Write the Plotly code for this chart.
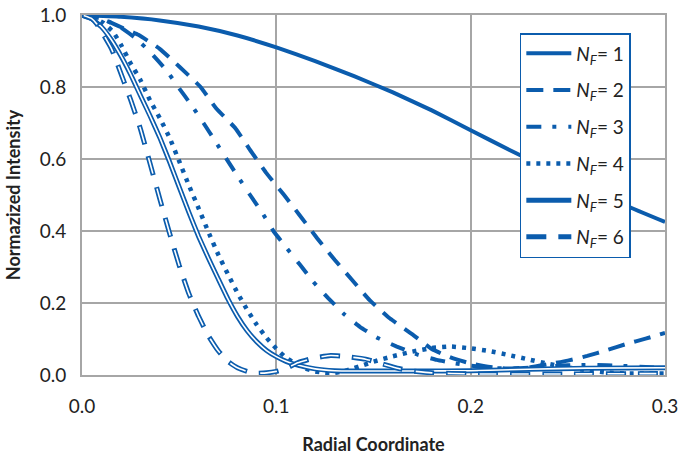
import plotly.graph_objects as go

# ---- data ----
x1 = [0, 0.02, 0.04, 0.06, 0.08, 0.1, 0.12, 0.14, 0.16, 0.18, 0.2, 0.22, 0.24, 0.26, 0.28, 0.3]
y1 = [1.0, 0.995, 0.985, 0.968, 0.943, 0.91, 0.872, 0.83, 0.785, 0.735, 0.68, 0.625, 0.572, 0.52, 0.47, 0.425]

x2 = [0, 0.01, 0.018, 0.029, 0.04, 0.05, 0.061, 0.069, 0.079, 0.0865, 0.095, 0.104, 0.112, 0.121,
      0.13, 0.139, 0.148, 0.1585, 0.1705, 0.18, 0.19, 0.2, 0.21, 0.22, 0.23, 0.24, 0.25, 0.26,
      0.27, 0.28, 0.29, 0.3]
y2 = [1.0, 0.99, 0.971, 0.945, 0.906, 0.857, 0.8, 0.741, 0.685, 0.625, 0.56, 0.5, 0.444, 0.38,
      0.32, 0.264, 0.208, 0.157, 0.111, 0.072, 0.048, 0.032, 0.022, 0.018, 0.021, 0.03, 0.04,
      0.053, 0.069, 0.086, 0.101, 0.117]

x3 = [0, 0.01, 0.02, 0.028, 0.035, 0.0435, 0.0495, 0.0564, 0.0625, 0.0685, 0.0745, 0.0805, 0.0865,
      0.0929, 0.0985, 0.1054, 0.1122, 0.119, 0.1268, 0.1345, 0.143, 0.1525, 0.162, 0.173, 0.1825,
      0.19, 0.2, 0.21, 0.22, 0.23, 0.24, 0.25, 0.26, 0.27, 0.28, 0.29, 0.3]
y3 = [1.0, 0.99, 0.965, 0.934, 0.897, 0.846, 0.8, 0.749, 0.7, 0.65, 0.599, 0.549, 0.5, 0.449, 0.4,
      0.352, 0.306, 0.259, 0.213, 0.171, 0.134, 0.102, 0.079, 0.056, 0.042, 0.034, 0.026, 0.02,
      0.018, 0.02, 0.024, 0.027, 0.028, 0.027, 0.025, 0.022, 0.02]

x4 = [0, 0.005, 0.011, 0.016, 0.02, 0.025, 0.03, 0.035, 0.04, 0.045, 0.05, 0.055, 0.06, 0.065,
      0.07, 0.075, 0.08, 0.085, 0.09, 0.095, 0.1, 0.105, 0.11, 0.115, 0.12, 0.125, 0.13, 0.135,
      0.14, 0.145, 0.15, 0.16, 0.17, 0.18, 0.19, 0.2, 0.21, 0.22, 0.23, 0.24, 0.25, 0.26, 0.27,
      0.28, 0.29, 0.3]
y4 = [1.0, 0.995, 0.978, 0.953, 0.918, 0.866, 0.82, 0.763, 0.714, 0.66, 0.594, 0.527, 0.463, 0.398,
      0.336, 0.281, 0.228, 0.181, 0.139, 0.103, 0.073, 0.048, 0.031, 0.018, 0.01, 0.006, 0.006,
      0.011, 0.019, 0.028, 0.037, 0.052, 0.065, 0.075, 0.079, 0.074, 0.066, 0.055, 0.043, 0.031,
      0.021, 0.013, 0.007, 0.004, 0.004, 0.004]

x5 = [0, 0.005, 0.01, 0.015, 0.02, 0.025, 0.03, 0.035, 0.04, 0.045, 0.05, 0.055, 0.06,
      0.065, 0.07, 0.075, 0.08, 0.085, 0.09, 0.095, 0.1, 0.105, 0.11, 0.12, 0.13, 0.14, 0.15,
      0.17, 0.2, 0.23, 0.26, 0.3]
y5 = [1.0, 0.99, 0.967, 0.932, 0.887, 0.835, 0.777, 0.72, 0.66, 0.593, 0.522, 0.452, 0.385,
      0.325, 0.268, 0.212, 0.163, 0.123, 0.092, 0.068, 0.051, 0.038, 0.029, 0.017, 0.012, 0.011,
      0.011, 0.011, 0.012, 0.016, 0.019, 0.02]

x6 = [0, 0.005, 0.0075, 0.01, 0.0152, 0.02, 0.025, 0.03, 0.035, 0.04, 0.045, 0.05,
      0.055, 0.06, 0.065, 0.07, 0.075, 0.08, 0.085, 0.09, 0.095, 0.1, 0.105, 0.111, 0.12, 0.128,
      0.135, 0.146, 0.155, 0.163, 0.17, 0.18, 0.2, 0.25, 0.3]
y6 = [1.0, 0.99, 0.976, 0.955, 0.906, 0.838, 0.765, 0.685, 0.588, 0.49, 0.395, 0.305,
      0.226, 0.163, 0.109, 0.068, 0.038, 0.02, 0.01, 0.005, 0.006, 0.01, 0.018, 0.034, 0.048,
      0.054, 0.052, 0.044, 0.03, 0.018, 0.011, 0.006, 0.003, 0.003, 0.004]

names = ["<i>N<sub>F</sub></i>= 1", "<i>N<sub>F</sub></i>= 2", "<i>N<sub>F</sub></i>= 3",
         "<i>N<sub>F</sub></i>= 4", "<i>N<sub>F</sub></i>= 5", "<i>N<sub>F</sub></i>= 6"]
x_ticks = [0.0, 0.1, 0.2, 0.3]
x_ticklabels = ["0.0", "0.1", "0.2", "0.3"]
y_ticks = [0.0, 0.2, 0.4, 0.6, 0.8, 1.0]
y_ticklabels = ["0.0", "0.2", "0.4", "0.6", "0.8", "1.0"]

BLUE = "#0b5cad"
FONT = "Lato"

fig = go.Figure()

def add(x, y, name, width, dash, grp):
    fig.add_trace(go.Scatter(x=x, y=y, mode="lines", name=name, legendgroup=grp,
                             line=dict(color=BLUE, width=width, dash=dash, shape="spline",
                                       smoothing=0.4)))

add(x1, y1, names[0], 4, "solid", "g1")
add(x2, y2, names[1], 4, "17px,10px", "g2")
add(x3, y3, names[2], 4, "15px,11px,4px,12px", "g3")
add(x4, y4, names[3], 4.5, "4px,6px", "g4")
add(x5, y5, names[4], 5, "solid", "g5")
fig.add_trace(go.Scatter(x=x5, y=y5, mode="lines", legendgroup="g5", showlegend=False,
                         hoverinfo="skip",
                         line=dict(color="white", width=1.6, shape="spline", smoothing=0.4)))
add(x6, y6, names[5], 5, "20px,12px", "g6")
fig.add_trace(go.Scatter(x=x6, y=y6, mode="lines", legendgroup="g6", showlegend=False,
                         hoverinfo="skip",
                         line=dict(color="white", width=1.6, dash="0px,1.5px,17px,13.5px",
                                   shape="spline", smoothing=0.4)))

GRID = "#a6a6a6"
fig.update_layout(
    width=680, height=455,
    margin=dict(l=82, r=15, t=15, b=80),
    paper_bgcolor="white", plot_bgcolor="white",
    font=dict(family=FONT, size=19, color="#222222"),
    showlegend=True,
    legend=dict(x=0.751, y=0.95, xanchor="left", yanchor="top",
                bordercolor=BLUE, borderwidth=1.5, bgcolor="white",
                font=dict(family=FONT, size=19, color="#222222"),
                itemwidth=45, tracegroupgap=9, traceorder="grouped"),
    xaxis=dict(range=[0, 0.3], tickvals=x_ticks, ticktext=x_ticklabels,
               showgrid=True, gridcolor=GRID, gridwidth=1.5, automargin=False,
               showline=True, linecolor=GRID, linewidth=2, mirror=True,
               zeroline=False, ticks="", ticklabelstandoff=13, ticklabeloverflow="allow",
               title=dict(text="<b>Radial Coordinate</b>", font=dict(size=18, family=FONT),
                          standoff=24)),
    yaxis=dict(range=[0, 1.0], tickvals=y_ticks, ticktext=y_ticklabels,
               showgrid=True, gridcolor=GRID, gridwidth=1.5, automargin=False,
               showline=True, linecolor=GRID, linewidth=2, mirror=True,
               zeroline=False, ticks="", ticklabelstandoff=10, ticklabeloverflow="allow",
               title=dict(text="<b>Normazized Intensity</b>", font=dict(size=18, family=FONT),
                          standoff=14)),
)

fig.write_html("out.html", config={"displayModeBar": False},
               post_script="document.body.style.margin='0';")
